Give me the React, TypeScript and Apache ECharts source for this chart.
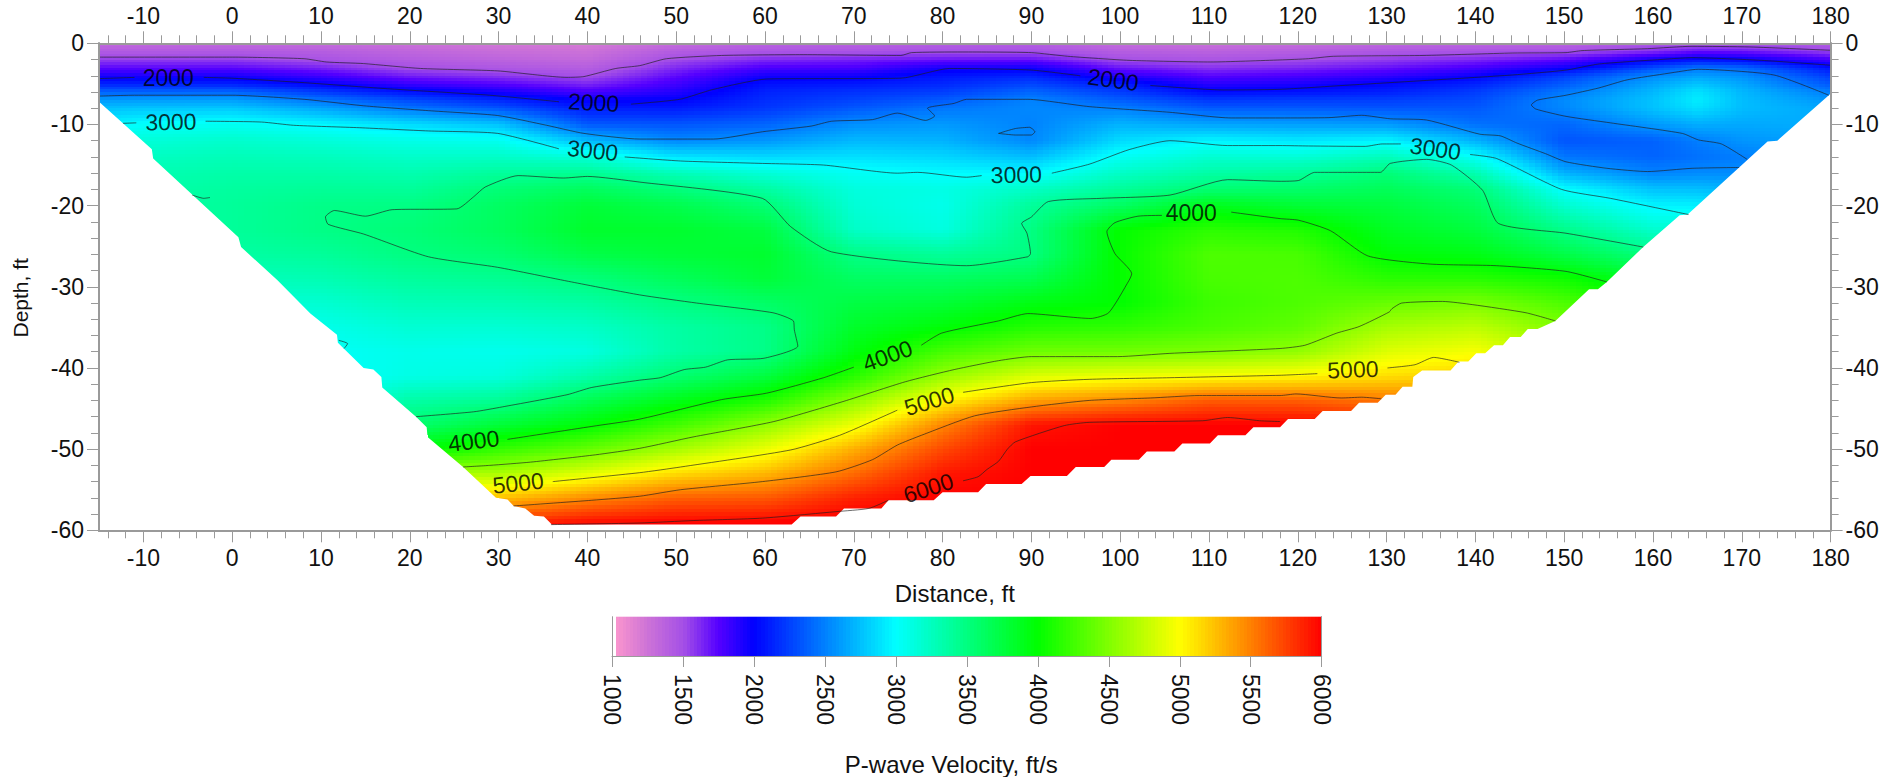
import React, { useEffect, useRef } from "react";
import * as echarts from "echarts";

const FONT = '"Liberation Sans", Arial, sans-serif';
const FS = 23;

const distanceMajor = [-10,0,10,20,30,40,50,60,70,80,90,100,110,120,130,140,150,160,170,180];
const distanceMinor = [-14,-12,-8,-6,-4,-2,2,4,6,8,12,14,16,18,22,24,26,28,32,34,36,38,42,44,46,48,52,54,56,58,62,64,66,68,72,74,76,78,82,84,86,88,92,94,96,98,102,104,106,108,112,114,116,118,122,124,126,128,132,134,136,138,142,144,146,148,152,154,156,158,162,164,166,168,172,174,176,178];
const depthMajor = [0,-10,-20,-30,-40,-50,-60];
const depthMinor = [-2,-4,-6,-8,-12,-14,-16,-18,-22,-24,-26,-28,-32,-34,-36,-38,-42,-44,-46,-48,-52,-54,-56,-58];
const scaleTicks = [1000,1500,2000,2500,3000,3500,4000,4500,5000,5500,6000];

const colorValues = [1000,1250,1500,1750,2000,2500,3000,3500,4000,4500,5000,5500,6000];
const colorRgb = [[255,153,204],[205,115,215],[165,80,230],[85,0,255],[0,0,255],[0,128,255],[0,255,255],[0,255,128],[0,255,0],[128,255,0],[255,255,0],[255,128,0],[255,0,0]];

const depthRows = [0,-1,-2,-3,-4,-5,-6,-7,-8,-10,-12,-14,-16,-18,-20,-23,-26,-29,-32,-35,-38,-41,-44,-47,-50,-53,-56,-60];
const columnX = [-15,-10,0,10,20,30,40,50,60,70,80,90,100,110,120,130,140,150,160,165,170,180];

const vAtM15 = [1320,1420,1560,1730,1930,2130,2390,2600,2750,2950,3100,3200];
const vAtM10 = [1320,1420,1560,1730,1920,2130,2390,2610,2770,3010,3150,3240,3300,3330,3350,3350,3300];
const vAt0 = [1320,1430,1560,1730,1930,2120,2400,2620,2780,3050,3200,3280,3340,3380,3400,3400,3360,3260,3150,3060];
const vAt10 = [1300,1400,1480,1640,1810,2000,2230,2450,2640,2970,3150,3260,3340,3410,3470,3480,3400,3300,3180,3080,3030,3000,3020,3120];
const vAt20 = [1260,1340,1410,1490,1650,1830,2070,2280,2460,2860,3090,3210,3310,3400,3490,3540,3500,3390,3280,3170,3080,3100,3350,3560,3950,4650,5300];
const vAt30 = [1220,1290,1360,1450,1580,1750,1940,2150,2330,2760,3060,3220,3390,3540,3620,3640,3560,3430,3300,3170,3070,3130,3420,3780,4200,4660,5240,6000];
const vAt40 = [1200,1260,1320,1400,1490,1630,1790,1980,2100,2340,2730,3140,3430,3640,3780,3830,3720,3520,3360,3220,3120,3330,3680,3980,4390,4880,5450,6100];
const vAt50 = [1300,1410,1510,1620,1720,1810,1900,2000,2100,2330,2530,2900,3270,3520,3700,3820,3780,3650,3490,3360,3350,3560,3900,4250,4650,5130,5620,6100];
const vAt60 = [1370,1460,1620,1780,1940,2060,2130,2170,2210,2390,2590,2850,3150,3370,3550,3750,3820,3780,3600,3470,3470,3750,4110,4560,4920,5280,5650,6100];
const vAt70 = [1370,1470,1650,1780,1950,2090,2190,2260,2340,2560,2720,2880,3040,3130,3160,3220,3480,3620,3740,3840,3940,4150,4550,4930,5320,5580,5870,6100];
const vAt80 = [1400,1490,1690,1930,2070,2150,2240,2350,2460,2600,2700,2840,2990,3100,3080,3120,3400,3620,3790,3970,4270,4590,5020,5480,5720,5910,6000,6000];
const vAt90 = [1400,1490,1700,1950,2130,2270,2400,2510,2530,2510,2530,2740,2980,3230,3400,3490,3500,3690,3930,4140,4430,4860,5360,5920,6000,6000,6000,6000];
const vAt100 = [1300,1400,1500,1680,1880,2100,2240,2360,2500,2700,2860,3040,3220,3400,3620,4010,4020,4010,4000,4180,4440,4940,5470,6000,6000,6000,6000,6000];
const vAt110 = [1270,1370,1470,1590,1740,1880,2040,2210,2350,2640,2960,3180,3350,3560,3900,4170,4300,4280,4230,4280,4490,4980,5640,6000,6000,6000,6000,6000];
const vAt120 = [1290,1400,1500,1630,1780,1920,2070,2230,2350,2620,2910,3160,3400,3590,3800,4120,4280,4300,4300,4370,4570,5030,5630,6000,6000,6000,6000,6000];
const vAt130 = [1340,1450,1560,1700,1850,2020,2120,2240,2330,2600,2960,3270,3530,3660,3760,3870,3980,4160,4400,4650,4870,5130,5530,5900,6000];
const vAt140 = [1350,1470,1630,1790,1970,2130,2230,2290,2340,2440,2700,3020,3310,3540,3640,3760,3920,4150,4480,4740,4970,5200,5500,5800];
const vAt150 = [1360,1490,1730,1950,2230,2350,2470,2540,2530,2400,2330,2460,2690,3000,3190,3470,3720,4060,4300,4500,4700,4900];
const vAt160 = [1440,1600,1960,2290,2530,2640,2720,2760,2760,2600,2380,2390,2510,2760,2960,3200,3500,3800,4100,4300];
const vAt165 = [1460,1700,2050,2450,2620,2770,2890,2930,2880,2680,2490,2440,2540,2750,2950,3200,3500];
const vAt170 = [1450,1680,2000,2400,2560,2650,2720,2740,2740,2660,2580,2490,2550,2700,2900,3100];
const vAt180 = [1420,1540,1800,2060,2230,2340,2490,2580,2650,2680,2650,2600,2650];
const fieldColumns = [vAtM15,vAtM10,vAt0,vAt10,vAt20,vAt30,vAt40,vAt50,vAt60,vAt70,vAt80,vAt90,vAt100,vAt110,vAt120,vAt130,vAt140,vAt150,vAt160,vAt165,vAt170,vAt180];

const lowerEdge = [[-15,-7.2],[-9.05,-13.06],[-8.9,-14.2],[0.7,-23.9],[1,-25.1],[5.1,-29.2],[8.8,-33.3],[11.8,-35.9],[11.9,-36.9],[14.8,-40],[15.9,-40.2],[16.8,-41.1],[16.9,-42.4],[20.7,-46],[21.9,-47.3],[22,-48.5],[26,-52.2],[29.7,-56],[31,-56.2],[31.7,-57],[33,-57.3],[34,-58.2],[35.1,-58.3],[36,-59.3],[63,-59.3],[64,-58.3],[68,-58.3],[68.9,-57.3],[73.1,-57.3],[73.9,-56.3],[79,-56.3],[80,-55.3],[84,-55.3],[84.9,-54.3],[88.9,-54.3],[89.9,-53.3],[94,-53.3],[95,-52.2],[98.2,-52.2],[99,-51.3],[102.1,-51.3],[103,-50.3],[106.1,-50.3],[107,-49.3],[110.1,-49.3],[111,-48.3],[114.1,-48.3],[115,-47.3],[118,-47.3],[118.9,-46.3],[121.9,-46.3],[122.8,-45.3],[126,-45.3],[126.9,-44.3],[129,-44.3],[129.9,-43.3],[131,-43.3],[131.8,-42.3],[132.9,-42.3],[133,-41.1],[134,-40.3],[137.2,-40.3],[138.1,-39.2],[139.2,-39.2],[140.1,-38.2],[141.1,-38.2],[142.1,-37.2],[143.1,-37.2],[143.9,-36.2],[145.1,-36.2],[145.9,-35.2],[147,-35.2],[149,-34.2],[152.8,-30.3],[153.8,-30.3],[154.8,-29.4],[158.9,-25.1],[163,-21.2],[163.9,-21.1],[172.9,-12.1],[174,-12],[179.8,-6.4],[180,-6.2]];

const contour1500 = [[[-15,-1.7],[0,-1.7],[8.1,-1.9],[10.6,-2.3],[14.8,-2.5],[21.2,-3.1],[29.9,-3.4],[37.7,-4.2],[39.6,-4.1],[43.2,-3.1],[45.9,-2.75],[48.9,-1.9],[55.1,-1.5],[64.3,-1.4],[75.3,-1.5],[76.5,-1.15],[82.2,-1.07],[90,-1.15],[94.1,-1.6],[101,-2.1],[110.2,-2.3],[118,-2.05],[121.2,-1.9],[124,-1.6],[134.1,-1.5],[144.2,-1.2],[150.2,-1.15],[152,-0.9],[159.4,-0.66],[164.4,-0.37],[170.9,-0.45],[180,-0.86]]];
const contour2000 = [[[-15,-4.35],[-11,-4.2]],[[-3.2,-4.2],[0,-4.3],[8.1,-4.85],[17.5,-5.6],[29,-6.4],[36.8,-7.2]],[[44.9,-7.5],[50.4,-6.9],[54.1,-5.7],[60.2,-4.4],[75.3,-4.3],[80.8,-3.1],[90,-3.3],[95.5,-4]],[[103.4,-5.2],[111.6,-5.75],[118,-5.67],[125,-5.2],[134.1,-4.6],[144.2,-3.9],[150.2,-3.3],[153.9,-2.55],[160.8,-2],[164.4,-1.77],[172.2,-2.1],[180,-2.7]]];
const contour2500 = [[[-15,-6.5],[-11,-6.4],[0,-6.4],[8.1,-6.9],[14.8,-7.7],[22.1,-8.3],[29.9,-8.9],[35.4,-10.1],[39.6,-11.1],[45.9,-11.8],[54.2,-11.8],[59.7,-10.9],[65.2,-10.2],[67.5,-9.6],[72.1,-9.4],[74.9,-8.6],[78.1,-9.5],[79.1,-8.95],[78.3,-8],[81.3,-7.4],[82.7,-6.9],[89.6,-6.9],[96.5,-7.8],[105.6,-8.5],[112.5,-9.2],[118,-9.2],[123.5,-9.16],[127.2,-8.87],[130.4,-9.3],[134.5,-9.45],[140.5,-11.2],[142.8,-11.4],[144.7,-12.3],[147.9,-13.6],[150.2,-14.6],[154.8,-15.4],[159.4,-15.8],[164.4,-15.4],[169.7,-15.3]],[[179.8,-6.4],[173.6,-3.9],[165.1,-3.2],[161.7,-3.7],[157.1,-4.5],[153.9,-5.5],[150.2,-6.4],[147,-7],[146.3,-7.6],[146.8,-8.1],[150.2,-9],[155.2,-9.8],[163.3,-11.1],[165.1,-11.9],[167.7,-12.4],[170.6,-14.3]],[[86.3,-11.1],[88.2,-10.5],[89.8,-10.35],[90.4,-10.9],[90,-11.3],[88.2,-11.3],[86.3,-11.1]]];
const contour3000 = [[[-12.3,-9.86],[-10.8,-9.8]],[[-3,-9.6],[3.3,-9.7],[6.9,-10.1],[14.3,-10.4],[22.1,-10.8],[29.9,-11.1],[36.8,-13]],[[44.2,-14],[50.5,-14.5],[59.7,-14.8],[66.6,-15],[74.9,-16],[77.2,-15.9],[82.7,-16.5],[84.4,-16.3]],[[92.3,-16],[96.5,-14.9],[101,-13.1],[105.6,-12],[112.1,-12.6],[118,-12.6],[121.2,-12.65],[127.6,-12.7],[129.5,-12.4],[131.6,-12.4]],[[139.4,-13.7],[142.4,-14.2],[149.7,-18],[155.2,-19.1],[164,-21.1]]];
const contour3500 = [[[20.7,-46],[27.2,-45.4],[30.4,-44.8],[37.7,-43.3],[40.5,-42.4],[45.9,-41.5],[48.2,-41.2],[50.9,-40.2],[53.3,-39.9],[55.8,-39],[59.9,-38.8],[63.7,-37.3],[63.3,-35.3],[63.2,-34.2],[60.9,-33.2],[52.3,-32],[45.9,-31],[38.2,-29.4],[29.9,-27.6],[22.1,-26.3],[14.8,-23.5],[10.8,-22.3],[10.5,-21.4],[11.5,-20.6],[15,-21.3],[18,-20.5],[25.3,-20.4],[27.2,-18.9],[28.5,-17.7],[32.2,-16.3],[37.3,-16.6],[40,-16.4],[45.9,-17.1],[59.7,-19.1],[62.9,-22.6],[67.5,-25.7],[82.7,-27.4],[89.6,-26.3],[89.9,-25.9],[89.5,-23.4],[88.9,-22.2],[90,-21.4],[91.9,-19.5],[97.9,-19.1],[105.6,-18.7],[112.1,-16.8],[118,-17],[120.1,-16.9],[121.9,-15.9],[129.3,-15.9],[130.4,-14.8],[134.5,-14.3],[137.3,-15],[140.8,-18.1],[142.6,-22.2],[150.2,-23.4],[158.9,-25.1]],[[-4.5,-18.7],[-3.2,-19.1],[-2.5,-19]],[[12,-36.6],[13,-37],[12.6,-37.6]]];
const contour4000 = [[[31,-48.8],[40.5,-47.2],[45.9,-46.3],[55.1,-43.9],[60.2,-43.1],[66.6,-41.2],[70,-39.9]],[[77.6,-37.2],[79.9,-35.7],[86.3,-34.2],[89.6,-33.3],[96.7,-33.9],[98.7,-33.2],[101,-29.2],[101.3,-28.4],[99.4,-25.9],[98.5,-23.2],[99.4,-22.1],[102,-21.3],[104.7,-21.2]],[[112.5,-20.8],[118,-21.6],[120.1,-21.8],[123.7,-23.1],[127.9,-26.2],[134.9,-27.2],[142.4,-27.4],[150.2,-28.1],[154.8,-29.4]]];
const contour4500 = [[[26,-52.2],[29,-52],[33.6,-51.6],[40.9,-50.7],[45.9,-49.9],[51.9,-48.5],[61,-46.6],[68.9,-44.1],[75.8,-41.7],[81.3,-40.2],[86.3,-39.1],[90,-38.6],[99.7,-38.6],[105.6,-38.2],[118,-37.6],[120.8,-37.2],[124.4,-35.7],[126.9,-34.9],[130.3,-33.1],[130.6,-32.7],[131.7,-32],[136.3,-31.8],[139.7,-32.2],[145.7,-33.2],[149,-34.2]]];
const contour5000 = [[[36.1,-54],[45.9,-52.9],[50.5,-52.2],[62.9,-50.1],[68.4,-48.3],[74.9,-45.2]],[[82.3,-43],[90,-41.8],[96.5,-41.4],[105.6,-41.2],[118,-40.9],[122.2,-40.7]],[[130.1,-40],[133.2,-39.6],[135.3,-38.7],[138.2,-39.3]]];
const contour5500 = [[[31.7,-57],[40.5,-56.3],[45.9,-55.8],[50.5,-55],[59.7,-54],[68,-52.8],[72.1,-51.3],[74.9,-49.5],[77.6,-48.3],[83.6,-45.9],[90,-44.8],[96.5,-44],[103.4,-43.7],[108.9,-43.4],[118,-43.4],[119.8,-43.2],[124.9,-43.7],[127.2,-43.6],[129.4,-43.8]]];
const contour6000 = [[[35.9,-59.3],[45.9,-59.1],[51.9,-58.8],[59.7,-58.5],[68,-57.7],[71.7,-57.3],[73.9,-56.3]],[[82.3,-53.9],[84,-53.4],[85,-52.5],[86.3,-51.5],[87.3,-50],[88.2,-49.1],[93.7,-47.1],[96.5,-46.7],[109.3,-46.5],[112.1,-46.1],[115.7,-46.5],[118,-46.6]]];
const contourSets = [contour1500,contour2000,contour2500,contour3000,contour3500,contour4000,contour4500,contour5000,contour5500,contour6000];

const labelText = ["2000","2000","2000","3000","3000","3000","3000","4000","4000","4000","5000","5000","5000","6000"];
const labelX = [-7.2,40.7,99.2,-6.9,40.6,88.3,135.5,108,73.8,27.2,78.5,126.2,32.2,78.4];
const labelDepth = [-4.3,-7.3,-4.5,-9.7,-13.2,-16.2,-13,-20.9,-38.5,-49,-44.1,-40.2,-54.2,-54.8];
const labelTilt = [0,-3,-8,1,-6,1,-8,0,20,7,17,2,6,18];

function colorOf(v: number) {
  if (v <= colorValues[0]) return `rgb(${colorRgb[0].join(",")})`;
  for (let i = 1; i < colorValues.length; i++) {
    if (v <= colorValues[i]) {
      const t = (v - colorValues[i - 1]) / (colorValues[i] - colorValues[i - 1]);
      const a = colorRgb[i - 1], b = colorRgb[i];
      return `rgb(${Math.round(a[0] + (b[0] - a[0]) * t)},${Math.round(a[1] + (b[1] - a[1]) * t)},${Math.round(a[2] + (b[2] - a[2]) * t)})`;
    }
  }
  return "rgb(255,0,0)";
}

function edgeDepth(x: number) {
  for (let i = 1; i < lowerEdge.length; i++) {
    if (x <= lowerEdge[i][0]) {
      const a = lowerEdge[i - 1], b = lowerEdge[i];
      const t = (x - a[0]) / (b[0] - a[0] || 1);
      return a[1] + (b[1] - a[1]) * t;
    }
  }
  return lowerEdge[lowerEdge.length - 1][1];
}

function fieldCells() {
  const cells: number[][] = [];
  for (let c = 0; c + 1 < columnX.length; c++) {
    for (let r = 0; r + 1 < depthRows.length; r++) {
      const a = fieldColumns[c][r], b = fieldColumns[c + 1][r];
      const e = fieldColumns[c][r + 1], f = fieldColumns[c + 1][r + 1];
      if (a == null || b == null || e == null || f == null) continue;
      cells.push([columnX[c], depthRows[r], columnX[c + 1], depthRows[r + 1], a, b, e, f]);
    }
  }
  return cells;
}

function renderCell(_: any, api: any) {
  const x0 = api.value(0), d0 = api.value(1), x1 = api.value(2), d1 = api.value(3);
  const v00 = api.value(4), v10 = api.value(5), v01 = api.value(6), v11 = api.value(7);
  const p = api.coord([x0, d0]), q = api.coord([x1, d1]);
  const w = q[0] - p[0], h = q[1] - p[1];
  const nx = Math.ceil(w / 6), ny = Math.ceil(h / 4);
  const children: any[] = [];
  for (let i = 0; i < nx; i++) {
    const fx = (i + 0.5) / nx;
    const x = x0 + (x1 - x0) * fx;
    const lim = edgeDepth(x) - 1.2;
    const left = Math.round(p[0] + (w * i) / nx), right = Math.round(p[0] + (w * (i + 1)) / nx);
    for (let j = 0; j < ny; j++) {
      const fy = (j + 0.5) / ny;
      const d = d0 + (d1 - d0) * fy;
      if (d < lim) continue;
      const v = (v00 * (1 - fx) + v10 * fx) * (1 - fy) + (v01 * (1 - fx) + v11 * fx) * fy;
      const top = Math.round(p[1] + (h * j) / ny), bot = Math.round(p[1] + (h * (j + 1)) / ny);
      children.push({ type: "rect", shape: { x: left, y: top, width: right - left, height: bot - top }, style: { fill: colorOf(v) } });
    }
  }
  return { type: "group", children };
}

function renderMask(_: any, api: any) {
  const pts = lowerEdge.map((e) => api.coord(e));
  pts.push(api.coord([180, -60]), api.coord([-15, -60]));
  return { type: "polygon", shape: { points: pts }, style: { fill: "#fff" } };
}

function renderScale(_: any, api: any) {
  const v = api.value(0);
  const p = api.coord([v, 0]), q = api.coord([v + 25, 1]);
  const left = Math.round(p[0]), right = Math.round(q[0]);
  return { type: "rect", shape: { x: left, y: q[1], width: right - left, height: p[1] - q[1] }, style: { fill: v < 1025 ? "#fff" : colorOf(v + 12.5) } };
}

const scaleSteps: number[][] = [];
for (let v = 1000; v < 6000; v += 25) scaleSteps.push([v]);

export default function App() {
  const ref = useRef<HTMLDivElement>(null);
  useEffect(() => {
    document.body.style.margin = "0";
    const chart = echarts.init(ref.current!, null, { renderer: "svg" });
    const grey = "#9a9a9a";
    const text = { color: "#111", fontFamily: FONT, fontSize: FS };
    const mkX = (pos: string, ticks: number[], len: number, labels: boolean, extra: any = {}) => ({
      type: "value", gridIndex: 0, min: -15, max: 180, position: pos, z: 4, splitLine: { show: false },
      axisLine: { show: true, onZero: false, lineStyle: { color: grey, width: 2 } },
      axisTick: { show: true, customValues: ticks, length: len, lineStyle: { color: grey, width: 1 } },
      axisLabel: labels ? { show: true, customValues: ticks, margin: 16, ...text } : { show: false },
      ...extra,
    });
    const mkY = (pos: string, ticks: number[], len: number, labels: boolean, extra: any = {}) => ({
      type: "value", gridIndex: 0, min: -60, max: 0, position: pos, z: 4, splitLine: { show: false },
      axisLine: { show: true, onZero: false, lineStyle: { color: grey, width: 2 } },
      axisTick: { show: true, customValues: ticks, length: len, lineStyle: { color: grey, width: 1 } },
      axisLabel: labels ? { show: true, customValues: ticks, margin: 15, ...text } : { show: false },
      ...extra,
    });
    const contourSeries: any[] = [];
    contourSets.forEach((set) => set.forEach((seg) => contourSeries.push({
      type: "line", xAxisIndex: 0, yAxisIndex: 0, data: seg, showSymbol: false, silent: true, z: 3, smooth: 0.2,
      lineStyle: { color: "rgba(30,30,30,0.65)", width: 1 },
    })));
    chart.setOption({
      animation: false,
      backgroundColor: "#fff",
      grid: [
        { left: 99, top: 43.3, width: 1731.6, height: 487 },
        { left: 612, top: 616.7, width: 709.7, height: 41 },
      ],
      xAxis: [
        mkX("bottom", distanceMajor, 12, true, {
          name: "Distance, ft", nameLocation: "middle", nameGap: 51,
          nameTextStyle: { color: "#111", fontFamily: FONT, fontSize: 24, padding: [0, 20, 0, 0] },
        }),
        mkX("bottom", distanceMinor, 8, false),
        mkX("top", distanceMajor, 12, true),
        mkX("top", distanceMinor, 8, false),
        {
          type: "value", gridIndex: 1, min: 1000, max: 6000, position: "bottom", z: 4, splitLine: { show: false },
          axisLine: { show: true, onZero: false, lineStyle: { color: grey, width: 1 } },
          axisTick: { show: true, customValues: scaleTicks, length: 11, lineStyle: { color: grey, width: 1 } },
          axisLabel: { show: true, customValues: scaleTicks, rotate: -90, margin: 18, ...text, formatter: (v: number) => String(v) },
          name: "P-wave Velocity, ft/s", nameLocation: "middle", nameGap: 96,
          nameTextStyle: { color: "#111", fontFamily: FONT, fontSize: 24, padding: [0, 31, 0, 0] },
        },
      ],
      yAxis: [
        mkY("left", depthMajor, 12, true, {
          name: "Depth, ft", nameLocation: "middle", nameGap: 68,
          nameTextStyle: { color: "#111", fontFamily: FONT, fontSize: 21, padding: [0, 22, 0, 0] },
        }),
        mkY("left", depthMinor, 8, false),
        mkY("right", depthMajor, 12, true),
        mkY("right", depthMinor, 8, false),
        {
          type: "value", gridIndex: 1, min: 0, max: 1, position: "left", z: 4, splitLine: { show: false },
          axisLine: { show: true, onZero: false, lineStyle: { color: grey, width: 1 } },
          axisTick: { show: false }, axisLabel: { show: false },
        },
        {
          type: "value", gridIndex: 1, min: 0, max: 1, position: "right", z: 4, splitLine: { show: false },
          axisLine: { show: true, onZero: false, lineStyle: { color: grey, width: 1 } },
          axisTick: { show: false }, axisLabel: { show: false },
        },
      ],
      series: [
        {
          type: "custom", xAxisIndex: 0, yAxisIndex: 0, renderItem: renderCell, data: fieldCells(), silent: true, z: 1,
          encode: { x: [0, 2], y: [1, 3] }, clip: true, progressive: 0,
        },
        {
          type: "custom", xAxisIndex: 0, yAxisIndex: 0, renderItem: renderMask, data: [[0]], silent: true, z: 2, clip: true,
        },
        ...contourSeries,
        {
          type: "scatter", xAxisIndex: 0, yAxisIndex: 0, symbolSize: 0, silent: true, z: 5,
          data: labelText.map((t, i) => ({
            value: [labelX[i], labelDepth[i]],
            label: { show: true, position: "inside", formatter: t, rotate: labelTilt[i], ...text, color: "#000" },
          })),
        },
        {
          type: "custom", xAxisIndex: 4, yAxisIndex: 4, renderItem: renderScale, data: scaleSteps, silent: true, z: 1,
          encode: { x: 0 }, progressive: 0,
        },
      ],
    });
    return () => chart.dispose();
  }, []);
  return <div ref={ref} style={{ position: "absolute", left: 0, top: 0, width: 1900, height: 777, overflow: "hidden" }} />;
}
